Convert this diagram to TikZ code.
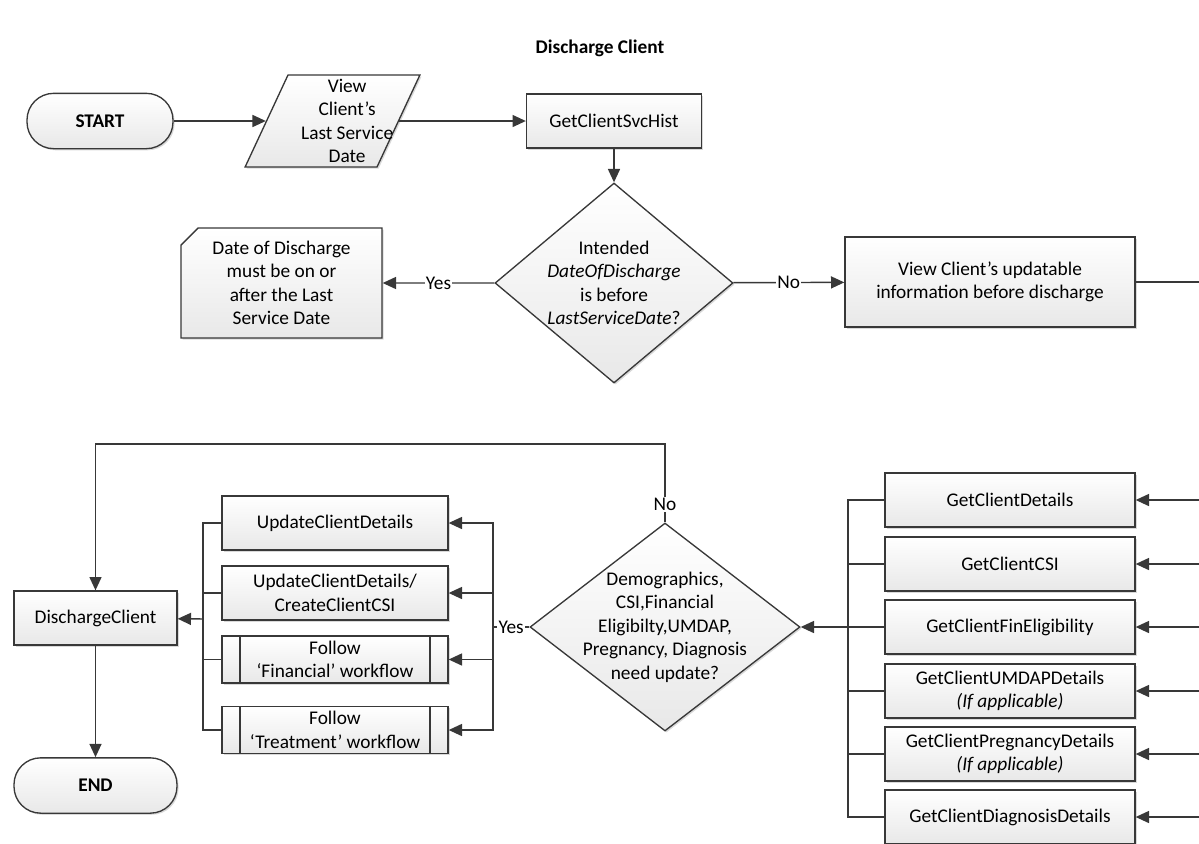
\documentclass[tikz,border=0pt]{standalone}
\usepackage{fontspec}
\setmainfont{Carlito}
\usetikzlibrary{shapes.geometric,shapes.misc,arrows.meta,shadows}

\newcommand{\dcfont}{\fontsize{14.5}{17.6}\selectfont}

\tikzset{
  base/.style={draw=black!78, line width=1pt, top color=white, bottom color=black!9,
    drop shadow={shadow xshift=1.2pt, shadow yshift=-1.2pt, opacity=0.25, fill=black!60},
    inner sep=0pt, align=center},
  terminal/.style={base, rectangle, rounded corners=20pt, minimum width=#1,
    minimum height=41.5pt, font=\dcfont\bfseries},
  process/.style={base, rectangle, minimum width=#1, minimum height=40.5pt},
  subproc/.style={process=#1, minimum height=35.25pt,
    path picture={\draw[black!78, line width=1pt]
      ([xshift=13.5pt]path picture bounding box.north west) -- ([xshift=13.5pt]path picture bounding box.south west)
      ([xshift=-13.5pt]path picture bounding box.north east) -- ([xshift=-13.5pt]path picture bounding box.south east);}},
  decision/.style 2 args={base, diamond, minimum width=#1, minimum height=#2},
  io/.style={base, trapezium, trapezium left angle=65, trapezium right angle=115,
    text width=66.75pt, text height=34.5pt, text depth=34.5pt},
  note/.style={base, chamfered rectangle, chamfered rectangle corners=north west,
    chamfered rectangle xsep=18pt, chamfered rectangle ysep=26pt, inner sep=2pt,
    minimum width=150.75pt, minimum height=82.5pt},
  line/.style={draw=black!78, line width=1.1pt},
  flow/.style={line, -{Triangle[length=10pt, width=9pt]}},
  lbl/.style={fill=white, inner sep=1pt}
}

\begin{document}
\begin{tikzpicture}[x=0.75pt, y=-0.75pt, font=\dcfont]
\useasboundingbox (0,0) rectangle (1199,843);

\node[font=\dcfont\bfseries] (title) at (600,48) {Discharge Client};

% first part
\node[terminal=109.5pt] (start) at (100,121) {START};
\node[io, label={[align=center, xshift=11pt]center:{View\\Client’s\\Last Service\\Date}}] (view) at (332.5,121) {};
\node[process=131.25pt] (svc) at (614,121) {GetClientSvcHist};
\node[decision={178.5pt}{150pt},
  label={[align=center]center:{Intended\\\textit{DateOfDischarge}\\is before\\\textit{LastServiceDate}?}}] (d1) at (614,283) {};
\node[note, label={[align=center]center:{Date of Discharge\\must be on or\\after the Last\\Service Date}}] (warn) at (281.5,283) {\strut};
\node[process=217.5pt, minimum height=67.5pt] (upd) at (990,282) {View Client’s updatable\\information before discharge};
\coordinate (rim) at (1199,282);

% get calls
\node[process=187.5pt] (g1) at (1010,500) {GetClientDetails};
\node[process=187.5pt] (g2) at (1010,564) {GetClientCSI};
\node[process=187.5pt] (g3) at (1010,627) {GetClientFinEligibility};
\node[process=187.5pt] (g4) at (1010,691) {GetClientUMDAPDetails\\\textit{(If applicable)}};
\node[process=187.5pt] (g5) at (1010,754) {GetClientPregnancyDetails\\\textit{(If applicable)}};
\node[process=187.5pt] (g6) at (1010,817) {GetClientDiagnosisDetails};
\coordinate (busG) at (848,627);

\node[decision={202.5pt}{156pt},
  label={[align=center]center:{Demographics,\\CSI,Financial\\Eligibilty,UMDAP,\\Pregnancy, Diagnosis\\need update?}}] (d2) at (665,627) {};
\coordinate (busY) at (493,627);
\coordinate (loop) at (665,444);

% updates
\node[process=169.5pt] (u1) at (335,523) {UpdateClientDetails};
\node[process=169.5pt] (u2) at (335,593) {UpdateClientDetails/\\CreateClientCSI};
\node[subproc=169.5pt] (u3) at (335,659.5) {Follow\\‘Financial’ workflow};
\node[subproc=169.5pt] (u4) at (335,730) {Follow\\‘Treatment’ workflow};
\coordinate (busL) at (203,619);

\node[process=122.25pt] (dc) at (95.5,618) {DischargeClient};
\node[terminal=122.25pt] (finish) at (95.5,785.5) {END};

% connectors
\draw[flow] (start) -- (view);
\draw[flow] (view) -- (svc);
\draw[flow] (svc) -- (d1);
\draw[flow] (d1) -- node[lbl]{Yes} (warn);
\draw[flow] (d1) -- node[lbl]{No} (upd);
\draw[line] (upd) -- (rim);
\foreach \g in {g1,g2,g3,g4,g5,g6} {
  \draw[flow] (\g.east -| rim) -- (\g.east);
  \draw[line] (\g.west) -| (busG);
}
\draw[flow] (busG) -- (d2);
\draw[line] (d2) -- node[lbl]{Yes} (busY);
\foreach \u in {u1,u2,u3,u4} {
  \draw[flow] (busY) |- (\u.east);
  \draw[line] (\u.west) -| (busL);
}
\draw[flow] (busL) -- (dc);
\draw[flow] (d2.north) -- node[lbl, pos=0.23]{No} (loop) -| (dc.north);
\draw[flow] (dc) -- (finish);
\end{tikzpicture}
\end{document}
